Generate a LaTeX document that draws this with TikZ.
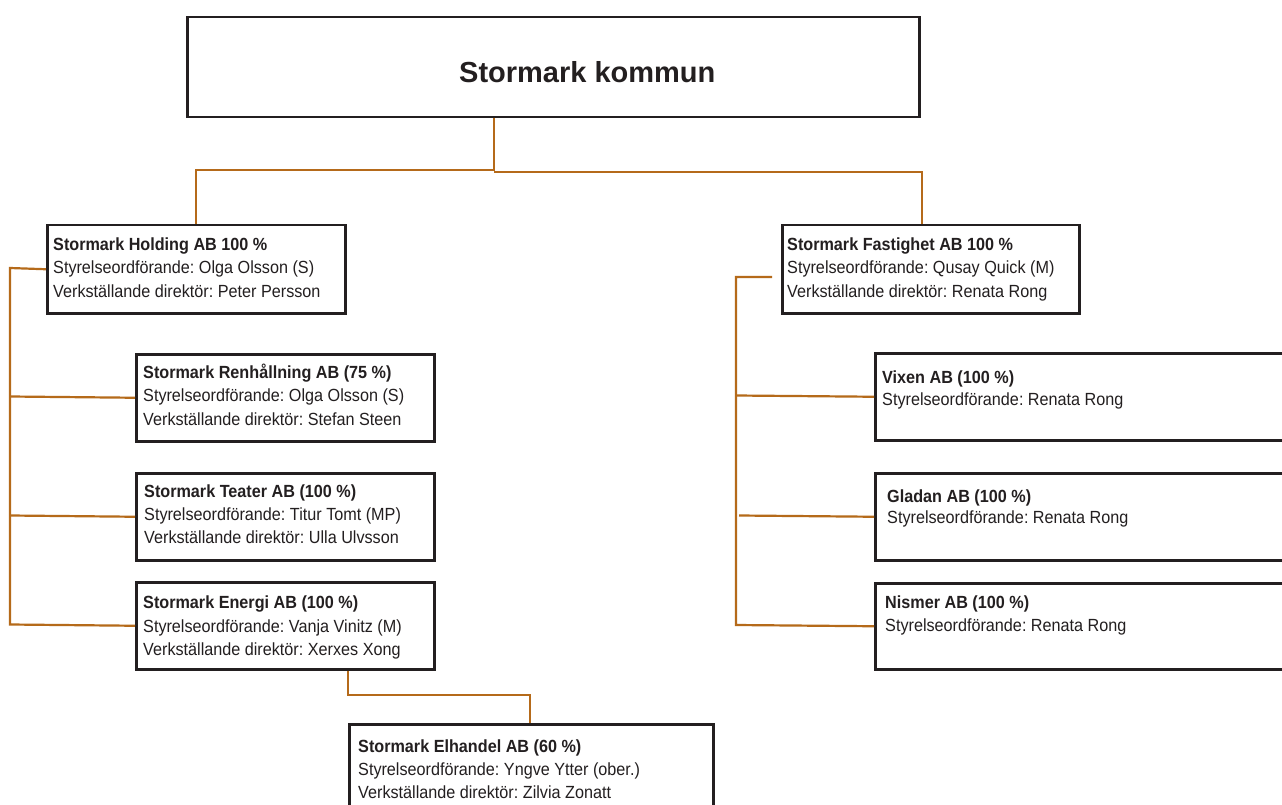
\documentclass[tikz,border=0pt]{standalone}
\usepackage{fontspec}
\setmainfont{Liberation Sans}
\newfontfamily\bodyfont[FakeStretch=0.92]{Liberation Sans}
\definecolor{wirec}{RGB}{181,106,26}
\definecolor{ink}{RGB}{35,31,32}
\begin{document}
\frenchspacing
\begin{tikzpicture}[x=1pt,y=-1pt,
  box/.style={draw=ink,line width=2.5pt,fill=white,inner sep=0pt,anchor=north west},
  ln/.style={anchor=base west,inner sep=0pt,text=ink,font=\bodyfont\fontsize{17.6}{20}\selectfont},
  hd/.style={anchor=base west,inner sep=0pt,text=ink,font=\bodyfont\fontsize{17.6}{20}\selectfont\bfseries},
  wire/.style={draw=wirec,line width=2.2pt}]
\clip (0,0) rectangle (1282,805);
\fill[white] (0,0) rectangle (1282,805);
% boxes
\node[box,minimum width=732pt,minimum height=100pt] (top) at (186,16) {};
\node[box,minimum width=298pt,minimum height=88pt] (hold) at (46,224) {};
\node[box,minimum width=297pt,minimum height=88pt] (fast) at (781,224) {};
\node[box,minimum width=298pt,minimum height=87pt] (ren) at (135,353) {};
\node[box,minimum width=298pt,minimum height=87pt] (teat) at (135,472) {};
\node[box,minimum width=298pt,minimum height=87pt] (ener) at (135,581) {};
\node[box,minimum width=364pt,minimum height=110pt] (elh) at (348,723) {};
\node[box,minimum width=430pt,minimum height=87pt] (vix) at (874,352) {};
\node[box,minimum width=430pt,minimum height=87pt] (glad) at (874,472) {};
\node[box,minimum width=430pt,minimum height=86pt] (nism) at (874,582) {};
% title
\node[anchor=base west,inner sep=0pt,text=ink,font=\fontsize{29}{34}\selectfont\bfseries] (title) at (459,83) {Stormark kommun};
% connectors
\coordinate (j1) at (494,170);
\coordinate (j2) at (494,172);
\draw[wire] ([xshift=308pt]top.south west) -- (j1) -| (hold.north);
\draw[wire] (j2) -| ([xshift=141pt]fast.north west);
\draw[wire] (hold.west) -- (10,268) -- (10,624.5) -- (ener.west);
\draw[wire] (10,396.5) -- (ren.west);
\draw[wire] (10,515.5) -- (teat.west);
\coordinate (fstub) at (772,277);
\draw[wire] (fstub) -- (736,277) -- (736,625) -- (nism.west);
\draw[wire] (736,395.5) -- (vix.west);
\draw[wire] (739,515.5) -- (glad.west);
\draw[wire] ([xshift=213pt]ener.south west) -- (348,695) -| ([xshift=182pt]elh.north west);
% texts
\node[hd] (hold1) at (53,250) {Stormark Holding AB 100 \%};
\node[ln] (hold2) at (53,273) {Styrelseordförande: Olga Olsson (S)};
\node[ln] (hold3) at (53,297) {Verkställande direktör: Peter Persson};
\node[hd] (fast1) at (787,250) {Stormark Fastighet AB 100 \%};
\node[ln] (fast2) at (787,273) {Styrelseordförande: Qusay Quick (M)};
\node[ln] (fast3) at (787,297) {Verkställande direktör: Renata Rong};
\node[hd] (ren1) at (143,378) {Stormark Renhållning AB (75 \%)};
\node[ln] (ren2) at (143,401) {Styrelseordförande: Olga Olsson (S)};
\node[ln] (ren3) at (143,425) {Verkställande direktör: Stefan Steen};
\node[hd] (teat1) at (144,497) {Stormark Teater AB (100 \%)};
\node[ln] (teat2) at (144,520) {Styrelseordförande: Titur Tomt (MP)};
\node[ln] (teat3) at (144,543) {Verkställande direktör: Ulla Ulvsson};
\node[hd] (ener1) at (143,608) {Stormark Energi AB (100 \%)};
\node[ln] (ener2) at (143,632) {Styrelseordförande: Vanja Vinitz (M)};
\node[ln] (ener3) at (143,655) {Verkställande direktör: Xerxes Xong};
\node[hd] (elh1) at (358,752) {Stormark Elhandel AB (60 \%)};
\node[ln] (elh2) at (358,775) {Styrelseordförande: Yngve Ytter (ober.)};
\node[ln] (elh3) at (358,798) {Verkställande direktör: Zilvia Zonatt};
\node[hd] (vix1) at (882,383) {Vixen AB (100 \%)};
\node[ln] (vix2) at (882,405) {Styrelseordförande: Renata Rong};
\node[hd] (glad1) at (887,502) {Gladan AB (100 \%)};
\node[ln] (glad2) at (887,523) {Styrelseordförande: Renata Rong};
\node[hd] (nism1) at (885,608) {Nismer AB (100 \%)};
\node[ln] (nism2) at (885,631) {Styrelseordförande: Renata Rong};
\end{tikzpicture}
\end{document}
